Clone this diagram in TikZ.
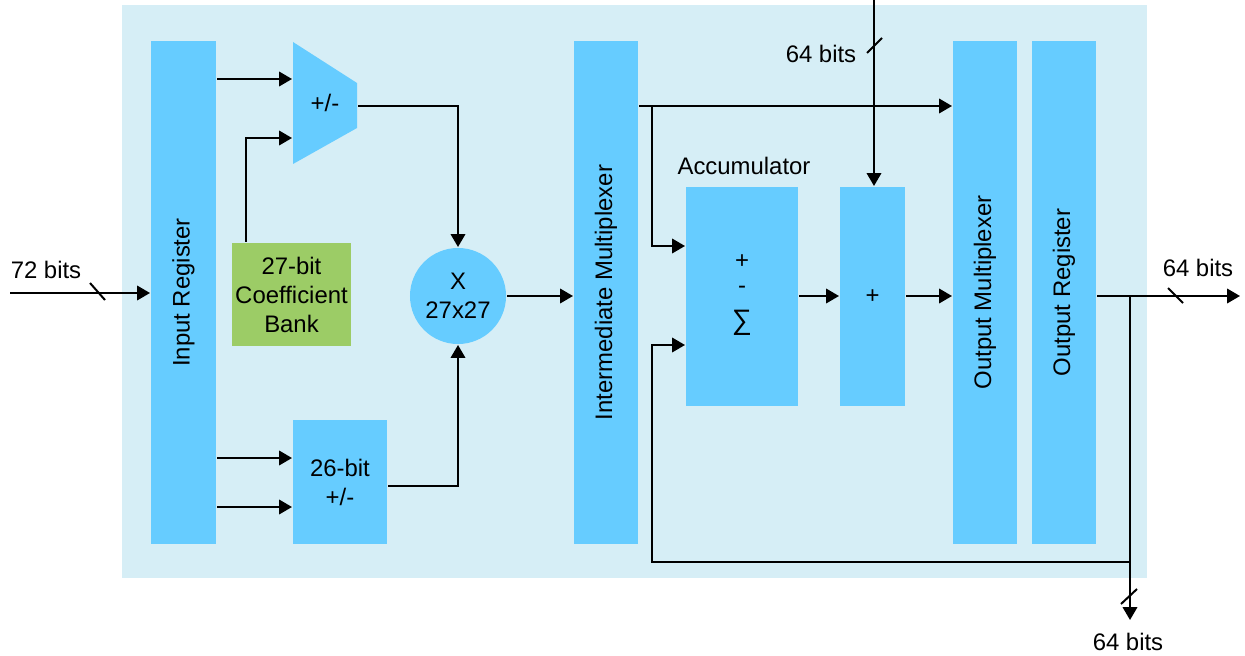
\documentclass[tikz,border=0pt]{standalone}
\usepackage{fontspec}
\setmainfont{Liberation Sans}
\usetikzlibrary{arrows.meta}
\definecolor{panelblue}{HTML}{D6EEF6}
\definecolor{blockblue}{HTML}{66CCFF}
\definecolor{bankgreen}{HTML}{9CCC66}
\tikzset{
  block/.style={fill=blockblue, inner sep=0pt, align=center},
  tall/.style={block, minimum width=1.6cm, minimum height=12.575cm},
  arr/.style={-{Triangle[length=0.32cm,width=0.36cm]}},
  bits/.style={inner sep=1pt}
}

\begin{document}
\begin{tikzpicture}[x=0.025cm, y=-0.025cm, line width=0.05cm,
    font=\fontsize{17}{20.6}\selectfont]
    \useasboundingbox (0,0) rectangle (1245,656);
    % panel
    \fill[panelblue] (122,5) rectangle (1147,578);

    % registers and multiplexers
    \node[tall, minimum width=1.625cm] (inreg) at (183.5,292.5) {\rotatebox{90}{Input Register}};
    \node[tall] (intmux) at (606,292.5) {\rotatebox{90}{Intermediate Multiplexer}};
    \node[tall] (outmux) at (985,292.5) {\rotatebox{90}{Output Multiplexer}};
    \node[tall] (outreg) at (1064,292.5) {\rotatebox{90}{Output Register}};

    % pre-adder
    \fill[blockblue] (293,42) -- (357,83) -- (357,128) -- (293,164) -- cycle;
    \node[inner sep=0pt, minimum width=1.6cm, minimum height=3.05cm] (preadd) at (325,103) {+/-};
    \node[block, fill=bankgreen, minimum width=2.975cm, minimum height=2.575cm] (coef) at (291.5,294.5) {27-bit\\Coefficient\\Bank};
    \node[block, minimum width=2.35cm, minimum height=3.1cm] (preadd26) at (340,482) {26-bit\\+/-};

    % multiplier
    \node[block, circle, minimum size=2.4cm] (mult) at (458,296) {X\\27x27};

    % accumulator
    \node[block, minimum width=2.8cm, minimum height=5.475cm] (accum) at (742,296.5) {};
    \node (plusop) at (742,262) {+};
    \node (minusop) at (742,290) {-};
    \node (sumop) at (742,323) {\fontsize{20}{24}\selectfont ∑};
    \node (acclabel) at (744,166) {Accumulator};
    \node[block, minimum width=1.625cm, minimum height=5.475cm] (addbox) at (872.5,296.5) {+};

    % inputs
    \coordinate (in72) at (10,293);
    \draw[arr] (in72) -- (inreg.west |- in72);
    \draw (90,283) -- (105,300);
    \node[bits] (lbl72) at (46,270) {72 bits};

    \coordinate (top64) at (874,0);
    \draw[arr] (top64) -- (top64 |- addbox.north);
    \draw (867,53) -- (882,38);
    \node[bits] (lbltop) at (821,54) {64 bits};

    % datapath
    \draw[arr] (inreg.east |- 0,79) -- (preadd.west |- 0,79);
    \draw[arr] (coef.north -| 246,0) |- (preadd.west |- 0,138);
    \draw[arr] (inreg.east |- 0,458) -- (preadd26.west |- 0,458);
    \draw[arr] (inreg.east |- 0,507) -- (preadd26.west |- 0,507);
    \draw[arr] (preadd.east |- 0,106) -| (mult.north);
    \draw[arr] (preadd26.east |- 0,486) -| (mult.south);
    \draw[arr] (mult.east) -- (intmux.west |- mult.east);

    \draw[arr] (intmux.east |- 0,106) -- (outmux.west |- 0,106);
    \draw[arr] (652,106) |- (accum.west |- 0,246);
    \draw[arr] (accum.east |- 0,296) -- (addbox.west |- 0,296);
    \draw[arr] (addbox.east |- 0,296) -- (outmux.west |- 0,296);

    % outputs
    \coordinate (out64) at (1240,296);
    \draw[arr] (outreg.east |- out64) -- (out64);
    \draw (1168,288) -- (1183,303);
    \node[bits] (lblout) at (1198,268) {64 bits};

    \draw[arr] (1130,296) |- (652,562) |- (accum.west |- 0,345);
    \coordinate (down64) at (1130,620);
    \draw[arr] (1130,562) -- (down64);
    \draw (1121,604) -- (1137,589);
    \node[bits] (lbldown) at (1128,642) {64 bits};
\end{tikzpicture}
\end{document}
